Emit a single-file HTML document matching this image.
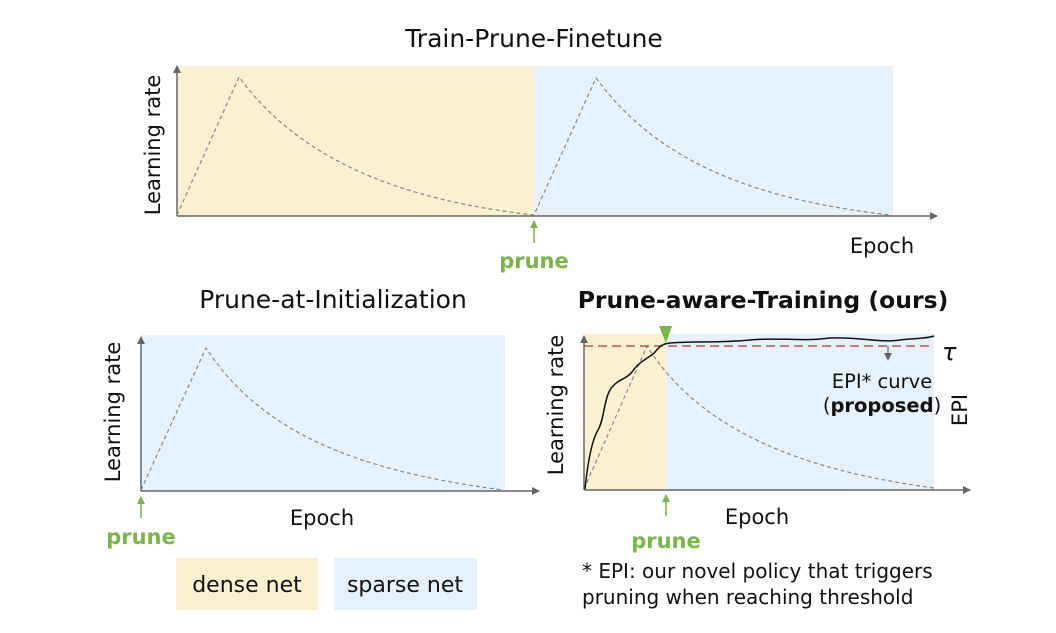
<!DOCTYPE html>
<html><head><meta charset="utf-8"><style>
html,body{margin:0;padding:0;background:#fff}
svg text{font-family:"DejaVu Sans","Liberation Sans",sans-serif}
</style></head><body>
<svg width="1056" height="628" viewBox="0 0 1056 628" xmlns="http://www.w3.org/2000/svg">
<defs>
<marker id="ah" markerWidth="8" markerHeight="8" refX="7" refY="4" orient="auto" markerUnits="userSpaceOnUse"><path d="M0,0 L8,4 L0,8 z" fill="#666"/></marker>
<marker id="gh" markerWidth="8" markerHeight="8" refX="7" refY="4" orient="auto" markerUnits="userSpaceOnUse"><path d="M0,0 L8,4 L0,8 z" fill="#7ab648"/></marker>
</defs>
<!-- Top -->
<text x="534" y="47" font-size="25" text-anchor="middle" fill="#111">Train-Prune-Finetune</text>
<rect x="177" y="66" width="357" height="150" fill="#fbf1d0"/>
<rect x="534" y="66" width="359" height="150" fill="#e5f2fc"/>
<line x1="177" y1="216" x2="177" y2="66" stroke="#666" stroke-width="1.5" marker-end="url(#ah)"/>
<line x1="177" y1="216" x2="937" y2="216" stroke="#666" stroke-width="1.5" marker-end="url(#ah)"/>
<path d="M177,215 L239,77 C300,160 400,200 534,215 L596,78 C660,165 760,200 890,215" fill="none" stroke="#888" stroke-width="1.2" stroke-dasharray="4,3"/>
<text transform="translate(160,145) rotate(-90)" font-size="21" text-anchor="middle" fill="#111">Learning rate</text>
<text x="882" y="253" font-size="21" text-anchor="middle" fill="#111">Epoch</text>
<line x1="534" y1="243" x2="534" y2="221" stroke="#7ab648" stroke-width="1.5" marker-end="url(#gh)"/>
<text x="534" y="268" font-size="21" font-weight="bold" text-anchor="middle" fill="#7ab648">prune</text>

<!-- Bottom left -->
<text x="333" y="308" font-size="25" text-anchor="middle" fill="#111">Prune-at-Initialization</text>
<rect x="141" y="335" width="364" height="156" fill="#e5f2fc"/>
<line x1="141" y1="491" x2="141" y2="337" stroke="#666" stroke-width="1.5" marker-end="url(#ah)"/>
<line x1="141" y1="491" x2="539" y2="491" stroke="#666" stroke-width="1.5" marker-end="url(#ah)"/>
<path d="M141,490 L206,348 C260,430 350,470 503,490" fill="none" stroke="#888" stroke-width="1.2" stroke-dasharray="4,3"/>
<text transform="translate(120,412) rotate(-90)" font-size="21" text-anchor="middle" fill="#111">Learning rate</text>
<text x="322" y="525" font-size="21" text-anchor="middle" fill="#111">Epoch</text>
<line x1="141" y1="518" x2="141" y2="497" stroke="#7ab648" stroke-width="1.5" marker-end="url(#gh)"/>
<text x="141" y="544" font-size="21" font-weight="bold" text-anchor="middle" fill="#7ab648">prune</text>

<!-- Legend -->
<rect x="176" y="558" width="142" height="52" fill="#fbf1d0"/>
<text x="247" y="592" font-size="22" text-anchor="middle" fill="#111">dense net</text>
<rect x="334" y="558" width="143" height="52" fill="#e5f2fc"/>
<text x="405" y="592" font-size="22" text-anchor="middle" fill="#111">sparse net</text>

<!-- Bottom right -->
<text x="763" y="308" font-size="23.5" font-weight="bold" text-anchor="middle" fill="#111">Prune-aware-Training (ours)</text>
<rect x="584" y="334" width="82" height="156" fill="#fbf1d0"/>
<rect x="666" y="334" width="268" height="156" fill="#e5f2fc"/>
<line x1="584" y1="490" x2="584" y2="336" stroke="#666" stroke-width="1.5" marker-end="url(#ah)"/>
<line x1="584" y1="490" x2="970" y2="490" stroke="#666" stroke-width="1.5" marker-end="url(#ah)"/>
<path d="M584,489 L647,346 C700,430 800,470 934,488" fill="none" stroke="#888" stroke-width="1.2" stroke-dasharray="4,3"/>
<line x1="584" y1="346" x2="934" y2="346" stroke="#b33" stroke-width="1.3" stroke-dasharray="9,5"/>
<path d="M585,489 C588,460 592,440 598,430 C604,420 604,400 610,390 C618,378 626,380 632,372 C640,360 650,358 655,352 C660,346 662,344 670,343 C700,341 720,343 750,340 C780,337 800,342 830,338 C860,337 880,343 900,340 C915,338 925,339 934,336" fill="none" stroke="#111" stroke-width="1.5"/>
<path d="M659,326 L672,326 L666,343 z" fill="#7ab648"/>
<line x1="888" y1="346" x2="888" y2="360" stroke="#666" stroke-width="1.2" marker-end="url(#ah)"/>
<text x="942" y="360" font-size="24" font-style="italic" font-family="Liberation Serif,serif" fill="#111">τ</text>
<text x="882" y="388" font-size="19.5" text-anchor="middle" fill="#111">EPI* curve</text>
<text x="882" y="412" font-size="19.5" text-anchor="middle" fill="#111">(<tspan font-weight="bold">proposed</tspan>)</text>
<text transform="translate(967,410) rotate(-90)" font-size="21" text-anchor="middle" fill="#111">EPI</text>
<text transform="translate(563,405) rotate(-90)" font-size="21" text-anchor="middle" fill="#111">Learning rate</text>
<text x="757" y="524" font-size="21" text-anchor="middle" fill="#111">Epoch</text>
<line x1="666" y1="516" x2="666" y2="495" stroke="#7ab648" stroke-width="1.5" marker-end="url(#gh)"/>
<text x="666" y="548" font-size="21" font-weight="bold" text-anchor="middle" fill="#7ab648">prune</text>
<text x="582" y="578" font-size="20" fill="#111">* EPI: our novel policy that triggers</text>
<text x="582" y="604" font-size="20" fill="#111">pruning when reaching threshold</text>
</svg>
</body></html>
